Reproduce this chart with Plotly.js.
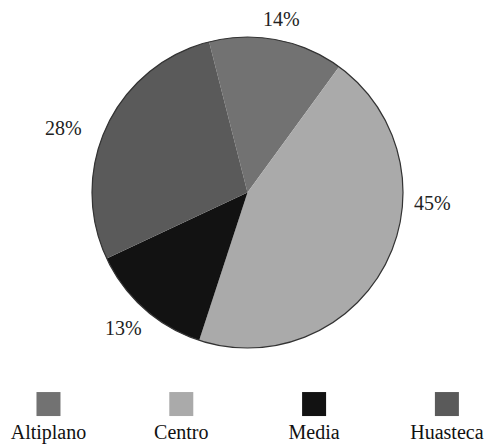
<!DOCTYPE html>
<html>
<head>
<meta charset="utf-8">
<script src="https://cdn.plot.ly/plotly-3.0.1.min.js"></script>
<style>html,body{margin:0;padding:0;background:#fff;}#chart{width:489px;height:444px;}</style>
</head>
<body>
<div id="chart"></div>
<script>
var categories = ["Altiplano", "Centro", "Media", "Huasteca"];
var values = [14, 45, 13, 28];
var colors = ["#727272", "#aaaaaa", "#121212", "#5a5a5a"];
var legendY = [0, 0, 0, 0];

var W = 489, H = 444;
var cx = 247.5, cy = 192.5, R = 155.5;
var dx = [(cx - R) / W, (cx + R) / W];
var dy = [(H - cy - R) / H, (H - cy + R) / H];

// label anchor positions in pixels (layout only), same order as categories
var labelPos = [[281, 19], [432, 203], [123, 328], [63, 128]];

var pie = {
  type: "pie",
  labels: categories,
  values: values,
  sort: false,
  direction: "clockwise",
  rotation: -14.3,
  marker: { colors: colors, line: { width: 0 } },
  textinfo: "none",
  textposition: "none",
  hoverinfo: "none",
  showlegend: false,
  domain: { x: dx, y: dy }
};

var legendMarks = {
  type: "scatter",
  mode: "markers",
  x: categories,
  y: legendY,
  marker: { symbol: "square", size: 24, color: colors, line: { width: 0 } },
  hoverinfo: "none",
  showlegend: false,
  cliponaxis: false,
  xaxis: "x",
  yaxis: "y"
};

var legendText = {
  type: "scatter",
  mode: "text",
  x: categories,
  y: legendY,
  text: categories,
  textposition: "middle center",
  textfont: { family: "Liberation Serif", size: 20, color: "#111" },
  hoverinfo: "none",
  showlegend: false,
  cliponaxis: false,
  xaxis: "x",
  yaxis: "y2"
};

var annotations = values.map(function (v, i) {
  return {
    xref: "paper", yref: "paper",
    x: labelPos[i][0] / W, y: 1 - labelPos[i][1] / H,
    xanchor: "center", yanchor: "middle",
    text: v + "%", showarrow: false,
    font: { family: "Liberation Serif", size: 20, color: "#222" }
  };
});

var layout = {
  width: W,
  height: H,
  margin: { l: 0, r: 0, t: 0, b: 0 },
  paper_bgcolor: "#fff",
  plot_bgcolor: "rgba(0,0,0,0)",
  showlegend: false,
  xaxis: { domain: [0, 1], range: [-0.365, 3.317], visible: false, fixedrange: true },
  yaxis: { domain: [0, 0.18], range: [-1, 1], visible: false, fixedrange: true },
  yaxis2: { domain: [0, 0.0428], range: [-1, 1], visible: false, fixedrange: true },
  annotations: annotations,
  shapes: [{
    type: "circle", xref: "paper", yref: "paper",
    x0: dx[0], x1: dx[1], y0: dy[0], y1: dy[1],
    line: { color: "#333", width: 1.2 }
  }]
};

Plotly.newPlot("chart", [pie, legendMarks, legendText], layout, { staticPlot: true, displayModeBar: false });
</script>
</body>
</html>
